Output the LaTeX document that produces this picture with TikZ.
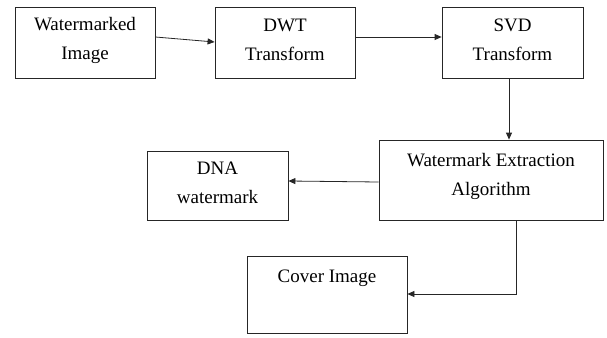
\documentclass[tikz,border=0pt]{standalone}
\usepackage{fontspec}
\setmainfont{Liberation Serif}
\usetikzlibrary{arrows.meta}
\begin{document}
\begin{tikzpicture}[x=1pt,y=-1pt,
  box/.style={draw=black!85,line width=0.8pt,inner sep=0pt},
  txt/.style={align=center,font=\fontsize{19}{29}\selectfont,inner sep=0pt},
  conn/.style={draw=black!85,line width=0.8pt},
  arr/.style={conn,-{Triangle[length=7pt,width=6pt]}}]
\useasboundingbox (0,0) rectangle (607,337);
% boxes
\node[box,minimum width=140pt,minimum height=71pt] (wm) at (85,42.5) {};
\node[txt] (wmt) at (85,40) {Watermarked\\Image};
\node[box,minimum width=140pt,minimum height=71pt] (dwt) at (285,42.5) {};
\node[txt] (dwtt) at (285,40) {DWT\\Transform};
\node[box,minimum width=141pt,minimum height=71pt] (svd) at (512.5,42.5) {};
\node[txt] (svdt) at (512.5,40) {SVD\\Transform};
\node[box,minimum width=224pt,minimum height=80pt] (ext) at (491,180) {};
\node[txt] (extt) at (491,176) {Watermark Extraction\\Algorithm};
\node[box,minimum width=141pt,minimum height=69pt] (dna) at (217.5,185.5) {};
\node[txt] (dnat) at (217.5,183) {DNA\\watermark};
\node[box,minimum width=160pt,minimum height=77pt] (cov) at (327,294.5) {};
\node[txt,anchor=base] (covt) at (327,282) {Cover Image};
% connectors
\draw[arr] (wm.east |- 0,37) -- (dwt.west |- 0,42);
\draw[arr] (dwt.east |- 0,37) -- (svd.west |- 0,37);
\draw[arr] (svd.south -| 509,0) -- (ext.north -| 509,0);
\draw[arr] (ext.west |- 0,182) -- (dna.east |- 0,181);
\coordinate (bend) at (516,294);
\draw[arr] (ext.south -| 516,0) -- (bend) -- (cov.east |- bend);
\end{tikzpicture}
\end{document}
